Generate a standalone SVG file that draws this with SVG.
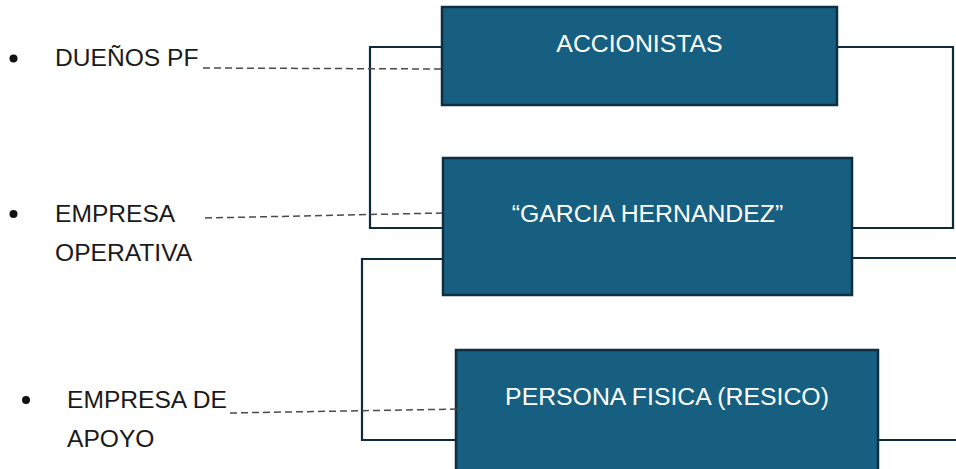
<svg xmlns="http://www.w3.org/2000/svg" width="956" height="469" viewBox="0 0 956 469">
<style>
.box{fill:#175f81;stroke:#0e2f42;stroke-width:2.5}
.bt{font-family:"Liberation Sans",Arial,sans-serif;font-size:24.8px;fill:#ffffff;text-anchor:middle}
.lt{font-family:"Liberation Sans",Arial,sans-serif;font-size:24.6px;fill:#1a1a1a}
.conn{fill:none;stroke:#0f2a3a;stroke-width:2.2}
.dash{fill:none;stroke:#4a4a4a;stroke-width:1.5;stroke-dasharray:7 4}
</style>
<rect width="956" height="469" fill="#ffffff"/>
<g id="accionistas">
<rect class="box" x="442" y="7" width="395" height="98"/>
<text class="bt" x="639.5" y="52">ACCIONISTAS</text>
</g>
<g id="garcia">
<rect class="box" x="443" y="158" width="409" height="137"/>
<text class="bt" x="647.5" y="222">“GARCIA HERNANDEZ”</text>
</g>
<g id="persona">
<rect class="box" x="456" y="350" width="422" height="130"/>
<text class="bt" x="667" y="405">PERSONA FISICA (RESICO)</text>
</g>
<g id="connectors">
<polyline class="conn" points="441,47 370,47 370,228 442,228"/>
<polyline class="conn" points="838,47 953,47 953,228 853,228"/>
<polyline class="conn" points="442,259 362,259 362,440 455,440"/>
<line class="conn" x1="853" y1="258" x2="960" y2="258"/>
<line class="conn" x1="879" y1="440" x2="960" y2="440"/>
<line class="dash" x1="203" y1="68" x2="441" y2="69"/>
<line class="dash" x1="205" y1="218" x2="442" y2="213"/>
<line class="dash" x1="230" y1="413" x2="463" y2="409"/>
</g>
<g id="label-duenos">
<circle cx="13.5" cy="58.5" r="4" fill="#111"/>
<text class="lt" x="55" y="66">DUEÑOS PF</text>
</g>
<g id="label-operativa">
<circle cx="13.5" cy="214" r="4" fill="#111"/>
<text class="lt" x="55" y="222">EMPRESA</text>
<text class="lt" x="55" y="261">OPERATIVA</text>
</g>
<g id="label-apoyo">
<circle cx="26" cy="400" r="4" fill="#111"/>
<text class="lt" x="67" y="408">EMPRESA DE</text>
<text class="lt" x="67" y="447">APOYO</text>
</g>
</svg>
